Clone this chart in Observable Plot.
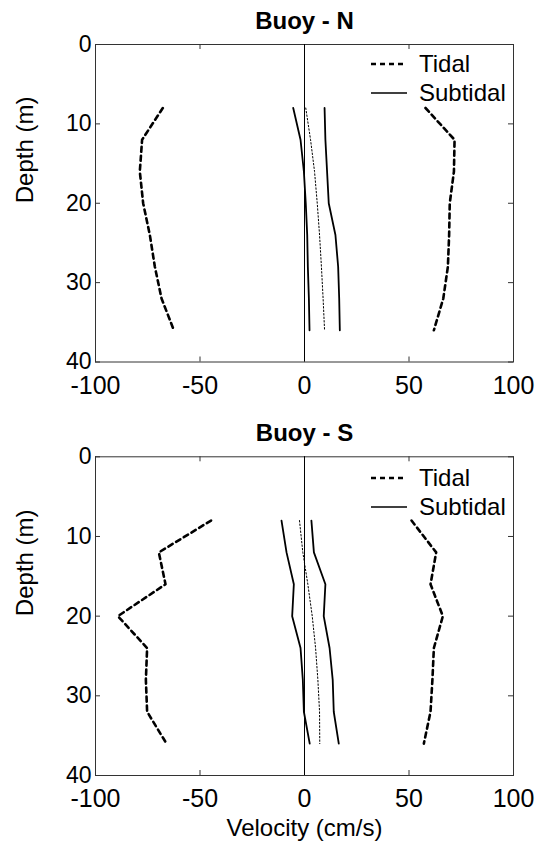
<!DOCTYPE html>
<html><head><meta charset="utf-8">
<script src="https://cdn.jsdelivr.net/npm/d3@7"></script>
<script src="https://cdn.jsdelivr.net/npm/@observablehq/plot@0.6"></script>
<style>
body{margin:0;background:#fff;}
#chart{position:relative;width:539px;height:849px;font-family:"Liberation Sans",Arial,Helvetica,sans-serif;overflow:hidden;}
#chart svg{position:absolute;left:0;}
</style></head><body><div id="chart"></div>
<script>
// ---- data ----
const depths = [8, 12, 16, 20, 24, 28, 32, 36];
const xTicks = [-100, -50, 0, 50, 100];
const xTickLabels = ["-100", "-50", "0", "50", "100"];
const yTicks = [0, 10, 20, 30, 40];
const yTickLabels = ["0", "10", "20", "30", "40"];
const panelTitles = ["Buoy - N", "Buoy - S"];
const legendLabels = ["Tidal", "Subtidal"];
const xLabel = "Velocity (cm/s)";
const yLabel = "Depth (m)";

// Buoy N
const nTidalLeft  = [-67.8, -77.7, -78.8, -77.2, -74.0, -71.6, -68.4, -62.5];
const nTidalRight = [57.9, 71.8, 71.5, 69.5, 69.2, 68.6, 66.4, 61.9];
const nSubLeft    = [-5.4, -1.9, -0.3, 0.6, 1.3, 1.6, 2.1, 2.4];
const nSubRight   = [9.6, 10.0, 10.8, 11.6, 14.8, 16.1, 16.6, 16.9];
const nSubMid     = [0.6, 2.9, 4.8, 6.1, 7.2, 8.1, 8.9, 9.6];
// Buoy S
const sTidalLeft  = [-44.7, -69.7, -66.5, -89.3, -75.3, -75.9, -75.3, -66.0];
const sTidalRight = [51.2, 63.0, 60.3, 66.2, 61.9, 61.2, 60.3, 57.1];
const sSubLeft    = [-11.0, -8.6, -5.1, -5.9, -1.9, -0.8, -0.3, 2.5];
const sSubRight   = [3.3, 4.5, 10.0, 9.2, 12.0, 13.5, 14.0, 16.4];
const sSubMid     = [-2.4, -0.8, 1.6, 3.7, 5.3, 6.4, 7.2, 7.3];

const FONT = '"Liberation Sans", Arial, Helvetica, sans-serif';
const W = 539, ML = 95, MR = 26;
const plotW = W - ML - MR;

function tidy(vals) { return vals.map((v, i) => ({x: v, depth: depths[i]})); }

function panel({title, tidalL, tidalR, subL, subR, subM, height, marginTop, marginBottom, showXLabel}) {
  const plotH = height - marginTop - marginBottom;
  const marks = [
    Plot.frame({stroke: "#333", strokeWidth: 1}),
    Plot.tickX(xTicks, {x: d => d, insetTop: plotH - 5, stroke: "#333"}),
    Plot.tickX(xTicks, {x: d => d, insetBottom: plotH - 5, stroke: "#333"}),
    Plot.tickY(yTicks, {y: d => d, insetRight: plotW - 5, stroke: "#333"}),
    Plot.tickY(yTicks, {y: d => d, insetLeft: plotW - 5, stroke: "#333"}),
    Plot.axisX({ticks: xTicks, tickSize: 0, tickPadding: 14, label: null, fontSize: 25,
      tickFormat: d => xTickLabels[xTicks.indexOf(d)]}),
    Plot.axisY({ticks: yTicks, tickSize: 0, tickPadding: 4, label: null, fontSize: 23,
      tickFormat: d => yTickLabels[yTicks.indexOf(d)]}),
    Plot.ruleX([0], {stroke: "#000", strokeWidth: 1}),
    Plot.line(tidy(tidalL), {x: "x", y: "depth", stroke: "#000", strokeWidth: 2.6, strokeDasharray: "5,4"}),
    Plot.line(tidy(tidalR), {x: "x", y: "depth", stroke: "#000", strokeWidth: 2.6, strokeDasharray: "5,4"}),
    Plot.line(tidy(subL), {x: "x", y: "depth", stroke: "#000", strokeWidth: 1.8}),
    Plot.line(tidy(subR), {x: "x", y: "depth", stroke: "#000", strokeWidth: 1.8}),
    Plot.line(tidy(subM), {x: "x", y: "depth", stroke: "#000", strokeWidth: 1, strokeDasharray: "1.5,2"}),
    Plot.text([title], {frameAnchor: "top", dy: -23, text: d => d, fontWeight: "bold", fontSize: 24, lineAnchor: "middle"}),
    Plot.text([yLabel], {frameAnchor: "left", dx: -70, rotate: -90, text: d => d, fontSize: 24, lineAnchor: "middle"})
  ];
  if (showXLabel) {
    marks.push(Plot.text([xLabel], {frameAnchor: "bottom", dy: 53, text: d => d, fontSize: 24, lineAnchor: "middle"}));
  }
  return Plot.plot({
    width: W, height, marginTop, marginBottom, marginLeft: ML, marginRight: MR,
    x: {domain: [-100, 100]},
    y: {domain: [0, 40], reverse: true},
    style: {fontFamily: FONT, fontSize: "25px", color: "#000", background: "transparent", overflow: "visible"},
    marks
  });
}

function legend(top) {
  const svg = d3.create("svg").attr("width", 200).attr("height", 70)
    .style("left", "360px").style("top", top + "px").style("position", "absolute");
  const items = [{label: legendLabels[0], dash: "5,4", w: 2.6}, {label: legendLabels[1], dash: null, w: 1.5}];
  items.forEach((it, i) => {
    const y = 20 + i * 29;
    svg.append("line").attr("x1", 11).attr("x2", 47).attr("y1", y).attr("y2", y)
      .attr("stroke", "#000").attr("stroke-width", it.w).attr("stroke-dasharray", it.dash);
    svg.append("text").attr("x", 59).attr("y", y).attr("dy", "0.35em")
      .attr("font-family", FONT).attr("font-size", 24).attr("fill", "#000").text(it.label);
  });
  return svg.node();
}

const chart = document.getElementById("chart");
const p1 = panel({title: panelTitles[0], tidalL: nTidalLeft, tidalR: nTidalRight, subL: nSubLeft, subR: nSubRight, subM: nSubMid,
  height: 410, marginTop: 44, marginBottom: 48.5, showXLabel: false});
p1.style.top = "0px";
chart.appendChild(p1);
const p2 = panel({title: panelTitles[1], tidalL: sTidalLeft, tidalR: sTidalRight, subL: sSubLeft, subR: sSubRight, subM: sSubMid,
  height: 439, marginTop: 46.3, marginBottom: 74, showXLabel: true});
p2.style.top = "410px";
chart.appendChild(p2);
chart.appendChild(legend(44));
chart.appendChild(legend(456.3 + 2));
</script>
</body></html>
